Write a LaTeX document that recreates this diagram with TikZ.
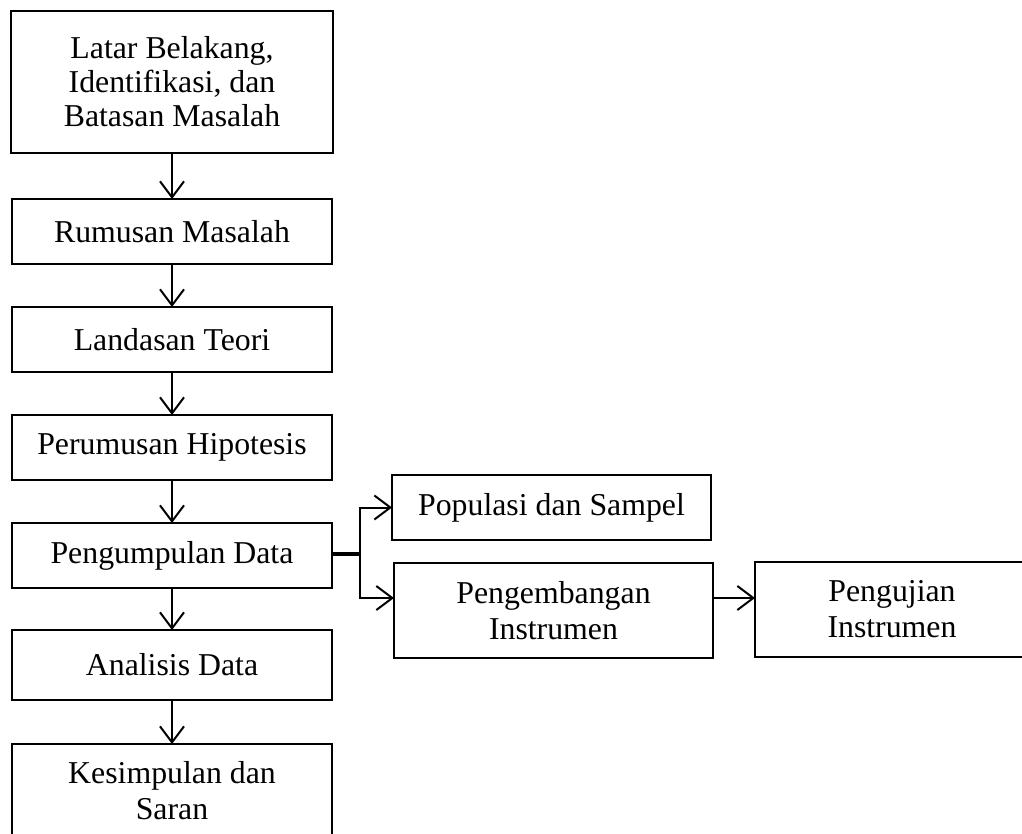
\documentclass[tikz,border=0pt]{standalone}
\usepackage{fontspec}
\setmainfont{Liberation Serif}
\usepackage{tikz}
\usetikzlibrary{positioning, arrows.meta, calc}

\begin{document}
\begin{tikzpicture}[x=1pt, y=-1pt,
    box/.style={draw, line width=2pt, align=center, outer sep=0pt, inner sep=0pt,
                font=\fontsize{31.8}{36}\selectfont},
    arr/.style={line width=2pt, -{Straight Barb[length=16pt, width=24pt, line width=2pt]}}]
    \useasboundingbox (0,0) rectangle (1022,834);
    % left column
    \node[box, minimum width=322, minimum height=142] (latar) at (172,82)
      {Latar Belakang,\\[-2pt]Identifikasi, dan\\[-2pt]Batasan Masalah};
    \node[box, minimum width=320, minimum height=65] (rumusan) at (172,231.5) {Rumusan Masalah};
    \node[box, minimum width=320, minimum height=65] (teori) at (172,339.5) {Landasan Teori};
    \node[box, minimum width=320, minimum height=65] (hipotesis) at (172,447.5) {Perumusan Hipotesis};
    \node[box, minimum width=320, minimum height=65] (kumpul) at (172,555.5) {Pengumpulan Data};
    \node[box, minimum width=320, minimum height=70] (analisis) at (172,665) {Analisis Data};
    \node[box, minimum width=320, minimum height=94] (simpul) at (172,791) {Kesimpulan dan\\Saran};
    % right side
    \node[box, minimum width=319, minimum height=65] (populasi) at (551.5,507.5) {Populasi dan Sampel};
    \node[box, minimum width=319, minimum height=95] (kembang) at (553.5,610.5) {Pengembangan\\Instrumen};
    \node[box, minimum width=274, minimum height=95] (uji) at (892,609.5) {Pengujian\\Instrumen};

    \draw[arr] (latar) -- (rumusan);
    \draw[arr] (rumusan) -- (teori);
    \draw[arr] (teori) -- (hipotesis);
    \draw[arr] (hipotesis) -- (kumpul);
    \draw[arr] (kumpul) -- (analisis);
    \draw[arr] (analisis) -- (simpul);

    \coordinate (cabang) at ($(kumpul.east)+(28,-2)$);
    \draw[line width=4pt] (kumpul.east |- cabang) -- (cabang);
    \draw[arr] (cabang) |- (populasi.west);
    \draw[arr] (cabang) |- ($(kembang.north west)+(0,35)$);
    \draw[arr] ($(kembang.north east)+(0,35)$) -- ($(uji.north west)+(0,36)$);
\end{tikzpicture}
\end{document}
